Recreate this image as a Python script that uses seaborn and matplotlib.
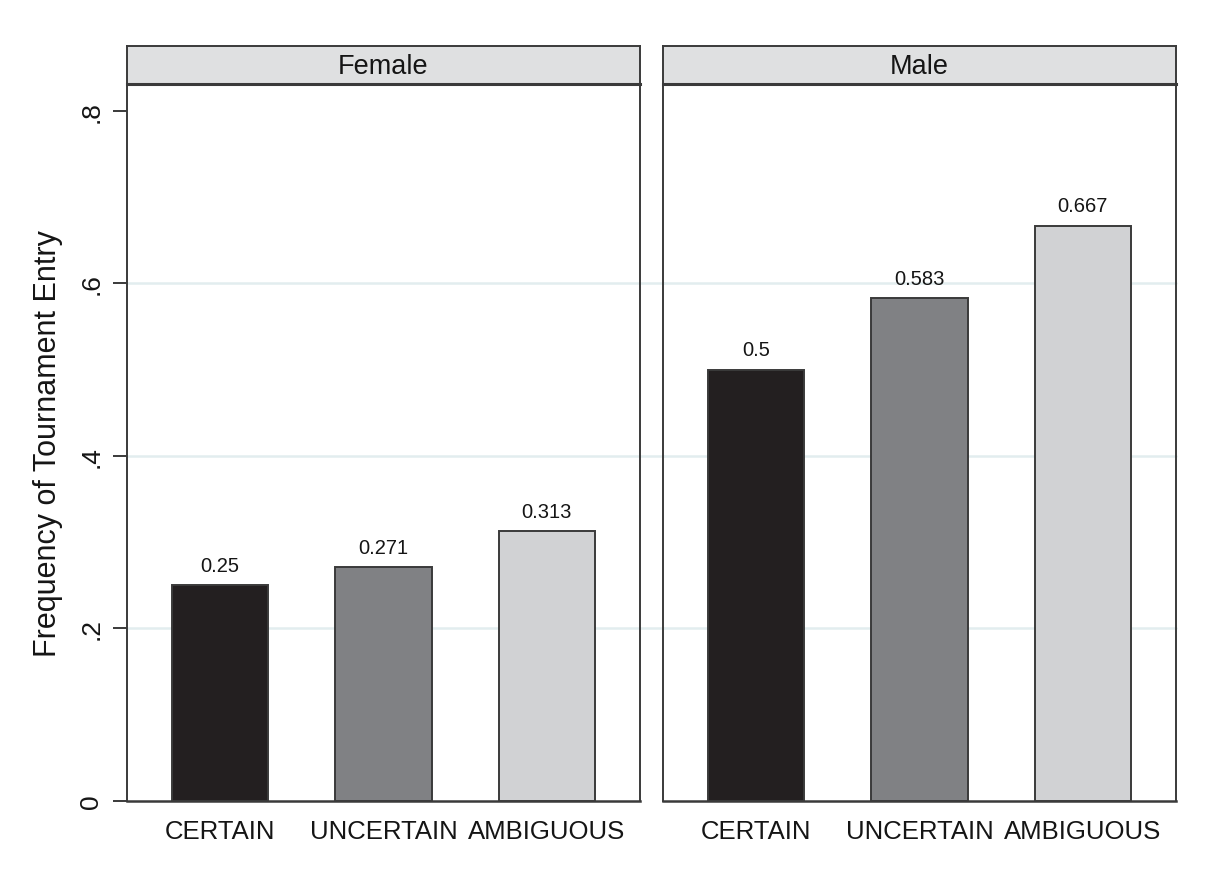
import matplotlib
matplotlib.use("Agg")
import matplotlib.pyplot as plt
import seaborn as sns
import pandas as pd
from matplotlib import font_manager

# ---- data ----
panels = ["Female", "Male"]
conditions = ["CERTAIN", "UNCERTAIN", "AMBIGUOUS"]
female_values = [0.25, 0.271, 0.313]
male_values = [0.5, 0.583, 0.667]
value_labels_female = ["0.25", "0.271", "0.313"]
value_labels_male = ["0.5", "0.583", "0.667"]
y_ticks = [0, 0.2, 0.4, 0.6, 0.8]
y_tick_labels = ["0", ".2", ".4", ".6", ".8"]
y_title = "Frequency of Tournament Entry"

bar_colors = ["#231f20", "#808184", "#d1d2d4"]

sns.set_theme(style="white")
names = {f.name for f in font_manager.fontManager.ttflist}
narrow = "Liberation Sans Narrow" if "Liberation Sans Narrow" in names else None
plt.rcParams["font.family"] = ["Liberation Sans", "DejaVu Sans"]

W, H = 1215, 879
fig = plt.figure(figsize=(W / 100, H / 100), dpi=100)
fig.patch.set_facecolor("white")

def fx(px):
    return px / W

def fy(py):
    return 1 - py / H

plot_top, plot_bot = 85, 802
head_top = 47
lefts = [127, 663]
pw = 513
ylim = (0, 0.831)
edge = "#3a3a3a"
txt = "#151515"

data_sets = [female_values, male_values]
label_sets = [value_labels_female, value_labels_male]

for i, (panel, vals, labs) in enumerate(zip(panels, data_sets, label_sets)):
    ax = fig.add_axes([fx(lefts[i]), fy(plot_bot), fx(pw), fy(plot_top) - fy(plot_bot)])
    df = pd.DataFrame({"condition": conditions, "value": vals})
    sns.barplot(data=df, x="condition", y="value", hue="condition",
                palette=bar_colors, order=conditions, hue_order=conditions,
                legend=False, width=0.59, edgecolor=edge, linewidth=1.4,
                saturation=1, ax=ax, zorder=3)
    ax.set_xlim(-0.57, 2.57)
    ax.set_ylim(*ylim)
    # gridlines
    xmax = (lefts[1] - lefts[0]) / pw + 0.002 if i == 0 else 1.0
    for yt in [0.2, 0.4, 0.6]:
        ax.axhline(yt, xmin=0, xmax=xmax, color="#e2edef", lw=1.8,
                   zorder=0, clip_on=False)
    # value labels
    for j, (v, t) in enumerate(zip(vals, labs)):
        if narrow:
            ax.text(j, v + 0.012, t, ha="center", va="bottom", fontsize=16,
                    family=[narrow, "Liberation Sans"], color=txt, zorder=4)
        else:
            ax.text(j, v + 0.012, t, ha="center", va="bottom", fontsize=14.5,
                    color=txt, zorder=4)
    ax.set_xlabel("")
    ax.set_ylabel("")
    ax.set_xticks(range(len(conditions)))
    ax.set_xticklabels(conditions, fontsize=18.5, color=txt)
    ax.tick_params(axis="x", length=0, pad=13)
    if i == 0:
        ax.set_yticks(y_ticks)
        ax.set_yticklabels(y_tick_labels, rotation=90, va="center",
                           fontsize=19, color=txt)
        ax.tick_params(axis="y", length=10, width=1.4, color=edge, pad=7,
                       left=True, direction="out")
        ax.set_ylabel(y_title, fontsize=22, color=txt, labelpad=12)
    else:
        ax.set_yticks(y_ticks)
        ax.set_yticklabels([])
        ax.tick_params(axis="y", length=0)
    for s in ax.spines.values():
        s.set_visible(True)
        s.set_color(edge)
        s.set_linewidth(1.4)
    ax.spines["bottom"].set_linewidth(1.8)
    ax.set_facecolor("white")
    ax.patch.set_alpha(0)

    # header strip
    hax = fig.add_axes([fx(lefts[i]), fy(plot_top), fx(pw), fy(head_top) - fy(plot_top)])
    hax.set_facecolor("#dfe0e1")
    hax.set_xticks([])
    hax.set_yticks([])
    for s in hax.spines.values():
        s.set_color(edge)
        s.set_linewidth(1.4)
    hax.spines["bottom"].set_linewidth(2.2)
    hax.text(0.5, 0.47, panel, ha="center", va="center", fontsize=19.5,
             color=txt, transform=hax.transAxes)

fig.savefig("out.png", dpi=100, facecolor="white")
